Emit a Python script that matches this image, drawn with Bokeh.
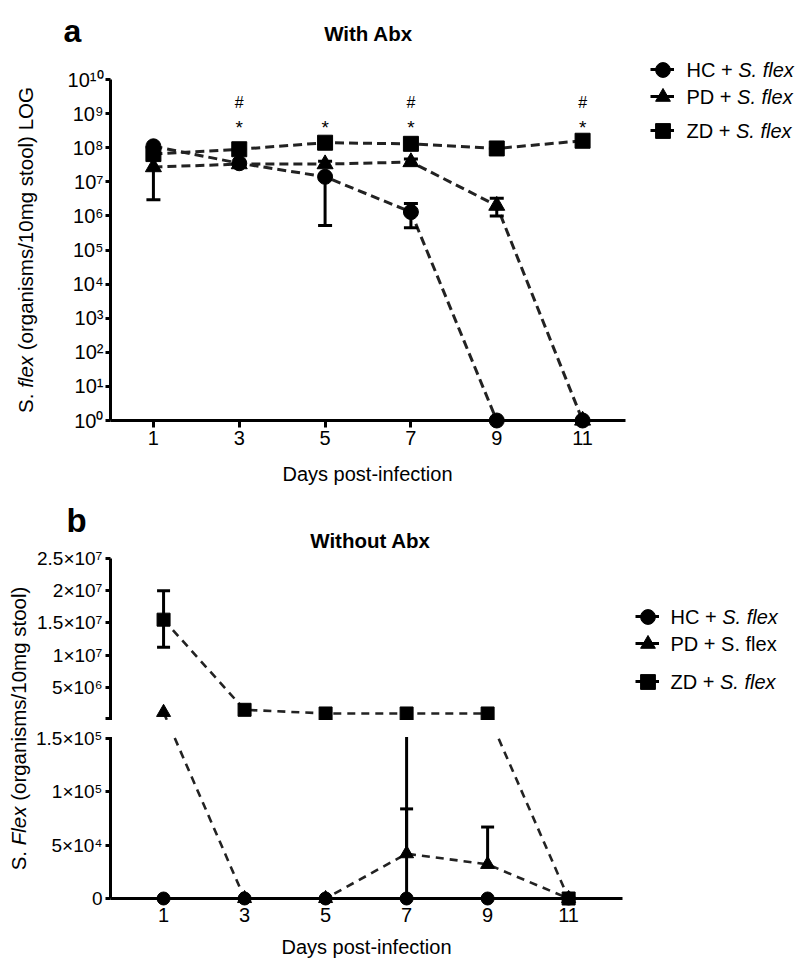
import math
from bokeh.plotting import figure
from bokeh.layouts import column
from bokeh.models import (ColumnDataSource, FixedTicker, Label, Legend, LegendItem,
                          BoxAnnotation, CustomJSTransform, Range1d)
from bokeh.transform import transform
from bokeh.core.properties import value
from bokeh.embed import file_html
from bokeh.resources import INLINE

FONT = "Liberation Sans"
NAN = float("nan")

# ---------------- data ----------------
days = [1, 3, 5, 7, 9, 11]
x_ticks = [1, 3, 5, 7, 9, 11]

# Panel a: With Abx (log scale)
a_hc    = [1.1e8, 3.5e7, 1.4e7, 1.3e6, 1, 1]
a_hc_lo = [1.1e8, 3.5e7, 5.2e5, 4.5e5, 1, 1]
a_hc_hi = [1.1e8, 3.5e7, 1.4e7, 2.3e6, 1, 1]
a_pd    = [2.7e7, 3.3e7, 3.3e7, 3.8e7, 2.0e6, 1]
a_pd_lo = [3.0e6, 3.3e7, 3.3e7, 3.8e7, 1.0e6, 1]
a_pd_hi = [2.7e7, 3.3e7, 4.0e7, 4.7e7, 3.3e6, 1]
a_zd    = [6.5e7, 9.0e7, 1.4e8, 1.3e8, 9.5e7, 1.6e8]
a_zd_lo = [6.5e7, 9.0e7, 1.4e8, 1.3e8, 9.5e7, 1.6e8]
a_zd_hi = [6.5e7, 9.0e7, 1.4e8, 1.3e8, 9.5e7, 1.6e8]
a_ytick_exp = list(range(11))
star_days = [3, 5, 7, 11]
hash_days = [3, 7, 11]
star_level = 3.9e8
hash_level = 2.1e9

# Panel b: Without Abx (broken linear scale)
b_hc    = [0, 0, 0, 0, 0, 0]
b_hc_lo = [0, 0, 0, 0, 0, 0]
b_hc_hi = [0, 0, 0, 0, 0, 0]
b_pd    = [1.1e6, 0, 0, 4.2e4, 3.2e4, 0]
b_pd_lo = [1.1e6, 0, 0, 4.2e4, 3.2e4, 0]
b_pd_hi = [1.1e6, 0, 0, 8.4e4, 6.7e4, 0]
b_zd    = [1.55e7, 1.5e6, 9.3e5, 9.3e5, 9.3e5, 0]
b_zd_lo = [1.12e7, 1.5e6, 9.3e5, 0, 9.3e5, 0]
b_zd_hi = [2.0e7, 1.5e6, 9.3e5, 9.3e5, 9.3e5, 0]
b_low_ticks = [0, 5e4, 1e5, 1.5e5]
b_low_labels = ["0", "5×10⁴", "1×10⁵", "1.5×10⁵"]
b_high_ticks = [5e6, 1e7, 1.5e7, 2e7, 2.5e7]
b_high_labels = ["5×10⁶", "1×10⁷", "1.5×10⁷", "2×10⁷", "2.5×10⁷"]

# broken axis geometry (display units = px)
BREAK, TOP = 1.5e5, 2.5e7
LOW_H, GAP, HIGH_H = 160.0, 20.0, 160.0

SUP = str.maketrans("0123456789", "⁰¹²³⁴⁵⁶⁷⁸⁹")

# Arial / Liberation Sans advance widths (1/1000 em) for composing mixed-style text
W = {" ": 278, "(": 333, ")": 333, "+": 584, ".": 278, "/": 278, "0": 556, "1": 556,
     "C": 722, "D": 722, "F": 611, "G": 778, "H": 722, "L": 556, "O": 778, "P": 667,
     "S": 667, "Z": 611, "a": 556, "e": 556, "f": 278, "g": 556, "i": 222, "l": 222,
     "m": 833, "n": 556, "o": 556, "r": 333, "s": 500, "t": 278, "x": 500}


def tw(s, fs):
    return sum(W.get(c, 556) for c in s) / 1000.0 * fs


def runs(p, parts, x, y, fs, vertical=False, center=False):
    total = sum(tw(t, fs) for t, _ in parts)
    off = -total / 2 if center else 0.0
    for txt, style in parts:
        lead = len(txt) - len(txt.lstrip(" "))
        o = off + tw(" " * lead, fs)
        s = txt.strip(" ")
        if vertical:
            lx, ly, ang = x, y + o, math.pi / 2
        else:
            lx, ly, ang = x + o, y, 0
        p.add_layout(Label(x=lx, y=ly, x_units="screen", y_units="screen", text=s,
                           text_font=FONT, text_font_style=style, text_font_size=f"{fs}px",
                           text_baseline="middle", text_align="left", angle=ang,
                           text_color="black"))
        off += tw(txt, fs)


def plain(p, text, x, y, fs, style="normal", align="center", baseline="middle"):
    p.add_layout(Label(x=x, y=y, x_units="screen", y_units="screen", text=text,
                       text_font=FONT, text_font_style=style, text_font_size=f"{fs}px",
                       text_align=align, text_baseline=baseline, text_color="black"))


def style_axis(ax, fs, tick_out, standoff):
    ax.axis_line_width = 3
    ax.axis_line_color = "black"
    ax.major_tick_line_width = 3
    ax.major_tick_line_color = "black"
    ax.major_tick_out = tick_out
    ax.major_tick_in = 0
    ax.minor_tick_line_color = None
    ax.major_label_text_font = FONT
    ax.major_label_text_font_size = f"{fs}px"
    ax.major_label_text_color = "black"
    ax.major_label_standoff = standoff


def add_errorbars(p, mean, lo, hi, yspec, lw, cap):
    xs, y0, y1, cx, cy = [], [], [], [], []
    for d, m, l, h in zip(days, mean, lo, hi):
        if h > l:
            xs.append(d); y0.append(l); y1.append(h)
        if h > m:
            cx.append(d); cy.append(h)
        if l < m:
            cx.append(d); cy.append(l)
    s = ColumnDataSource(dict(x=xs, y0=y0, y1=y1))
    p.segment(x0="x", x1="x", y0=yspec("y0"), y1=yspec("y1"), source=s,
              line_color="black", line_width=lw)
    c = ColumnDataSource(dict(x=cx, y=cy))
    p.scatter(x="x", y=yspec("y"), source=c, marker="dash", size=cap,
              line_color="black", line_width=lw, angle=0)


def _legend(p, rend, cx, cy, gw, gh):
    lg = Legend(items=[LegendItem(label=value(" "), renderers=[rend])],
                location=(cx - gw / 2, cy - gh / 2), glyph_width=gw, glyph_height=gh,
                padding=0, margin=0, spacing=0, label_standoff=0, label_height=gh,
                label_width=1, border_line_alpha=0, background_fill_alpha=0,
                label_text_font_size="4px")
    p.add_layout(lg, "center")


def legend_row(p, marker, cx, cy, stub=24, box=37):
    ln = p.line(x=[NAN], y=[NAN], line_color="black", line_width=3)
    sc = p.scatter(x=[NAN], y=[NAN], marker=marker, size=10, fill_color="black", line_color="black")
    _legend(p, ln, cx, cy, stub, 20)
    _legend(p, sc, cx, cy, box, box)


FIG_W = 800

# ================= Panel a =================
HA = 488
A_X0_PX, A_X1_PX = 110.0, 625.0      # canvas px of day 0 and day 12
A_TOP_PX, A_BOT_PX = 79.0, 420.0     # canvas px (from top) of 1e10 and 1
ppd = (A_X1_PX - A_X0_PX) / 12.0
ppdec = (A_BOT_PX - A_TOP_PX) / 10.0
ax0 = 0 - A_X0_PX / ppd
ax1 = ax0 + FIG_W / ppd
ay1 = 10 ** (10 + A_TOP_PX / ppdec)
ay0 = 10 ** (-(HA - A_BOT_PX) / ppdec)

pa = figure(width=FIG_W, height=HA, output_backend="svg", toolbar_location=None,
            y_axis_type="log", x_range=Range1d(ax0, ax1), y_range=Range1d(ay0, ay1),
            min_border=0)
pa.outline_line_color = None
pa.grid.visible = False
pa.background_fill_color = "white"

src_a = ColumnDataSource(dict(day=days, hc=a_hc, pd=a_pd, zd=a_zd))
for col in ["hc", "pd", "zd"]:
    pa.line(x="day", y=col, source=src_a, line_color="#222222", line_width=3, line_dash="9 5")
ya = lambda n: n
add_errorbars(pa, a_hc, a_hc_lo, a_hc_hi, ya, 3, 14)
add_errorbars(pa, a_pd, a_pd_lo, a_pd_hi, ya, 3, 14)
add_errorbars(pa, a_zd, a_zd_lo, a_zd_hi, ya, 3, 14)
pa.scatter(x="day", y="pd", source=src_a, marker="triangle", size=16, color="black")
pa.scatter(x="day", y="zd", source=src_a, marker="square", size=15, color="black")
pa.scatter(x="day", y="hc", source=src_a, marker="circle", size=15, color="black")

st = ColumnDataSource(dict(x=star_days, y=[star_level] * len(star_days), t=["*"] * len(star_days)))
hs = ColumnDataSource(dict(x=hash_days, y=[hash_level] * len(hash_days), t=["#"] * len(hash_days)))
pa.text(x="x", y="y", text="t", source=st, text_align="center", text_baseline="middle",
        text_font=value(FONT), text_font_size="19px", text_color="black")
pa.text(x="x", y="y", text="t", source=hs, text_align="center", text_baseline="middle",
        text_font=value(FONT), text_font_size="16px", text_color="black")

pa.xaxis.ticker = FixedTicker(ticks=x_ticks)
pa.xaxis.fixed_location = 1
pa.xaxis.bounds = (0, 12)
style_axis(pa.xaxis[0], 20, 7, 3)
pa.yaxis.ticker = FixedTicker(ticks=[10.0 ** k for k in a_ytick_exp])
pa.yaxis.major_label_overrides = {10.0 ** k: "10" + str(k).translate(SUP) for k in a_ytick_exp}
pa.yaxis.fixed_location = 0
pa.yaxis.bounds = (1, 1e10)
style_axis(pa.yaxis[0], 20, 5, 2)

ra = lambda rx, ry: (rx, HA - ry)   # page px -> panel a screen units
plain(pa, "a", *ra(72, 30), 32, style="bold", baseline="alphabetic")
plain(pa, "With Abx", *ra(368, 33), 20.5, style="bold")
plain(pa, "Days post-infection", *ra(367, 473), 20)
runs(pa, [("S. ", "normal"), ("flex", "italic"), (" (organisms/10mg stool) LOG", "normal")],
     *ra(25, 249.5), 20.5, vertical=True, center=True)

for mk, ry in [("circle", 69), ("triangle", 96), ("square", 130)]:
    legend_row(pa, mk, *ra(662, ry))
runs(pa, [("HC + ", "normal"), ("S. flex", "italic")], *ra(686, 69), 20)
runs(pa, [("PD + ", "normal"), ("S. flex", "italic")], *ra(686, 96), 20)
runs(pa, [("ZD + ", "normal"), ("S. flex", "italic")], *ra(686, 130), 20)

# ================= Panel b =================
HB = 474
brk_tf = CustomJSTransform(
    args=dict(brk=BREAK, top=TOP, lh=LOW_H, gap=GAP, hh=HIGH_H),
    func="return x <= brk ? x / brk * lh : lh + gap + (x - brk) / (top - brk) * hh;",
    v_func="""
const out = new Float64Array(xs.length);
for (let i = 0; i < xs.length; i++) {
  const x = xs[i];
  out[i] = x <= brk ? x / brk * lh : lh + gap + (x - brk) / (top - brk) * hh;
}
return out;
""")


def brk_pos(v):
    return v / BREAK * LOW_H if v <= BREAK else LOW_H + GAP + (v - BREAK) / (TOP - BREAK) * HIGH_H


XB0, XB1 = -0.31, 12.33
B_X0_PX, B_X1_PX = 110.0, 622.0      # canvas px of XB0 and XB1
B_ZERO_PX = 410.0                    # canvas px (from panel top) of value 0
ppd_b = (B_X1_PX - B_X0_PX) / (XB1 - XB0)
bx0 = XB0 - B_X0_PX / ppd_b
bx1 = bx0 + FIG_W / ppd_b

pb = figure(width=FIG_W, height=HB, output_backend="svg", toolbar_location=None,
            x_range=Range1d(bx0, bx1), y_range=Range1d(-(HB - B_ZERO_PX), B_ZERO_PX),
            min_border=0)
pb.outline_line_color = None
pb.grid.visible = False
pb.background_fill_color = "white"

src_b = ColumnDataSource(dict(day=days, hc=b_hc, pd=b_pd, zd=b_zd))
yb = lambda n: transform(n, brk_tf)
for col in ["hc", "pd", "zd"]:
    pb.line(x="day", y=yb(col), source=src_b, line_color="#222222", line_width=2.6, line_dash="8 6")
add_errorbars(pb, b_hc, b_hc_lo, b_hc_hi, yb, 3, 13)
add_errorbars(pb, b_pd, b_pd_lo, b_pd_hi, yb, 3, 13)
add_errorbars(pb, b_zd, b_zd_lo, b_zd_hi, yb, 3, 13)
pb.scatter(x="day", y=yb("pd"), source=src_b, marker="triangle", size=14, color="black")
pb.scatter(x="day", y=yb("zd"), source=src_b, marker="square", size=13, color="black")
pb.scatter(x="day", y=yb("hc"), source=src_b, marker="circle", size=13, color="black")

# gap of the broken axis
pb.add_layout(BoxAnnotation(left=XB0 - 0.15, right=XB1, bottom=LOW_H + 1.5, top=LOW_H + GAP - 1.5,
                            fill_color="white", fill_alpha=1.0, line_alpha=0, level="overlay"))

pb.xaxis.ticker = FixedTicker(ticks=x_ticks)
pb.xaxis.fixed_location = 0
pb.xaxis.bounds = (XB0, XB1)
style_axis(pb.xaxis[0], 20, 6, 3)
yt = [brk_pos(v) for v in b_low_ticks] + [LOW_H + GAP] + [brk_pos(v) for v in b_high_ticks]
yl = b_low_labels + [""] + b_high_labels
pb.yaxis.ticker = FixedTicker(ticks=yt)
pb.yaxis.major_label_overrides = dict(zip(yt, yl))
pb.yaxis.fixed_location = XB0
pb.yaxis.bounds = (0, LOW_H + GAP + HIGH_H)
style_axis(pb.yaxis[0], 19, 5, 3)

rb = lambda rx, ry: (rx, HA + HB - ry)   # page px -> panel b screen units
plain(pb, "b", *rb(76, 520), 33, style="bold", baseline="alphabetic")
plain(pb, "Without Abx", *rb(370, 540), 20.5, style="bold")
plain(pb, "Days post-infection", *rb(366, 946), 20)
runs(pb, [("S. ", "normal"), ("Flex", "italic"), (" (organisms/10mg stool)", "normal")],
     *rb(18, 728), 20.5, vertical=True, center=True)

for mk, ry in [("circle", 616), ("triangle", 643), ("square", 681)]:
    legend_row(pb, mk, *rb(647, ry))
runs(pb, [("HC + ", "normal"), ("S. flex", "italic")], *rb(670, 616), 20)
runs(pb, [("PD + S. flex", "normal")], *rb(670, 643), 20)
runs(pb, [("ZD + ", "normal"), ("S. flex", "italic")], *rb(670, 681), 20)

layout = column(pa, pb)
open("out.html", "w").write(file_html(layout, INLINE))
